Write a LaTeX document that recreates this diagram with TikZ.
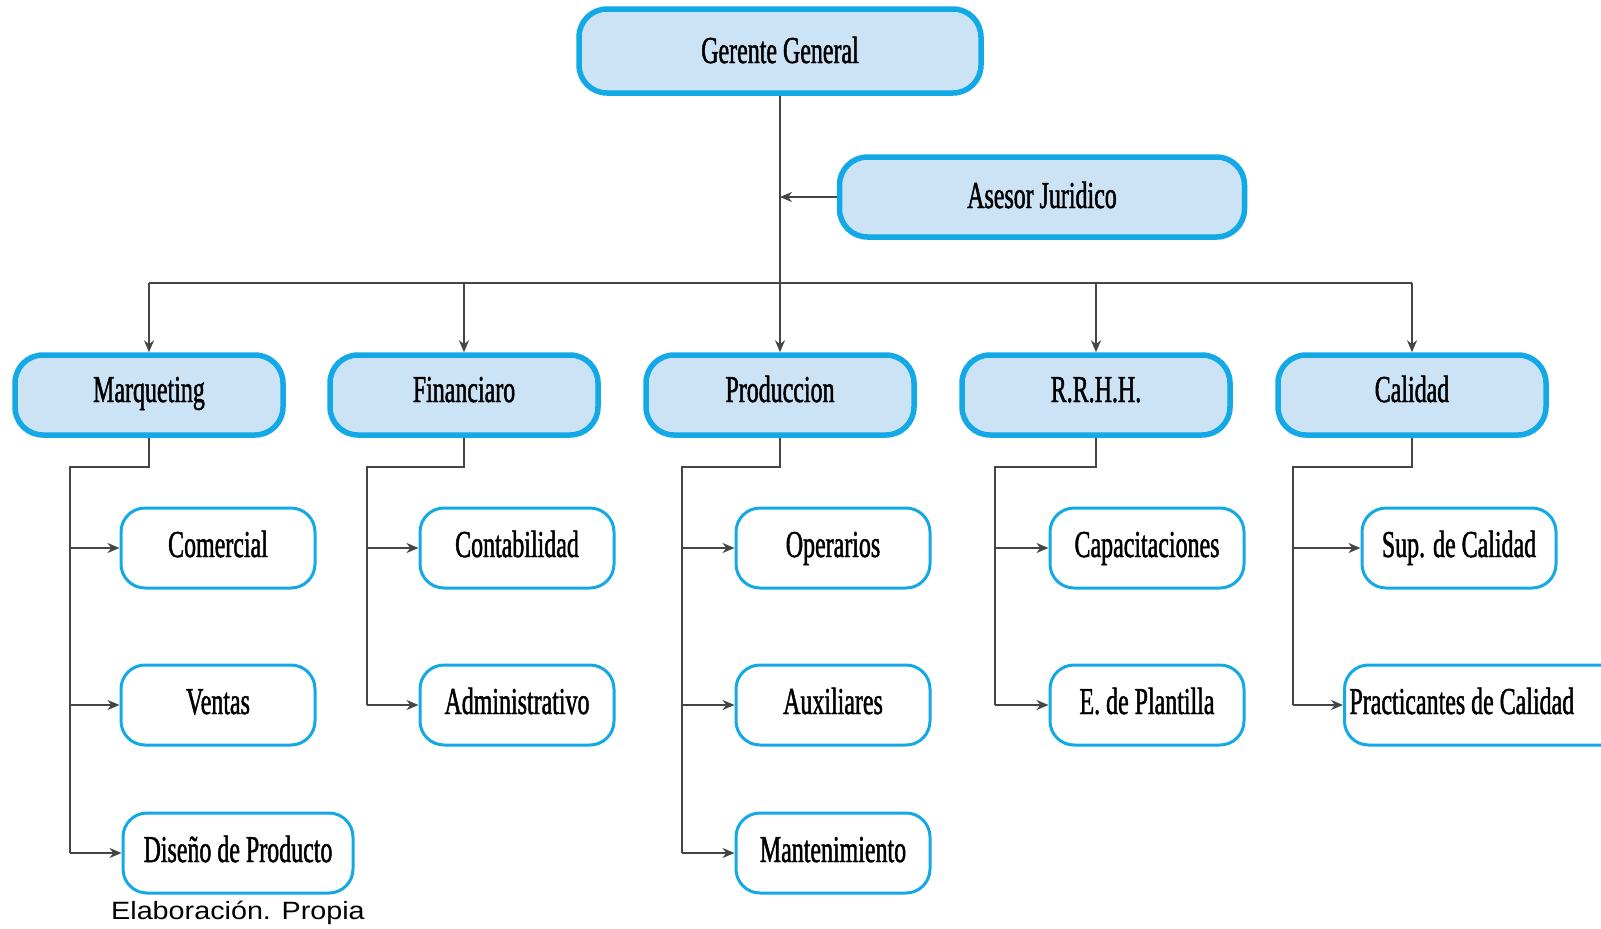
\documentclass[tikz,border=0pt]{standalone}
\usepackage{fontspec}
\setmainfont{Liberation Serif}
\newfontfamily\boxfont[FakeStretch=0.63,FakeBold=1.2]{Liberation Serif}
\newfontfamily\notefont[FakeStretch=1.15]{Liberation Sans}
\usetikzlibrary{arrows.meta}
\definecolor{boxblue}{HTML}{12A9E6}
\definecolor{boxfill}{HTML}{CCE3F6}
\definecolor{linegray}{HTML}{454545}
\tikzset{
  base/.style={font=\boxfont\fontsize{38}{44}\selectfont, text=black, inner sep=0pt,
               text height=26pt},
  head/.style={base, draw=boxblue, line width=5.5pt, fill=boxfill, rounded corners=28pt,
               minimum height=80pt, minimum width=268pt, text depth=12pt},
  sub/.style={base, draw=boxblue, line width=3pt, fill=white, rounded corners=24pt,
              minimum height=80pt, minimum width=194pt, text depth=8pt},
  link/.style={draw=linegray, line width=2pt},
  tip/.style={link, -{Stealth[length=12pt,width=10pt]}}
}
\begin{document}
\begin{tikzpicture}[x=1pt,y=1pt]
\useasboundingbox (0,0) rectangle (1601,-929);

% top level
\node[head, minimum width=402pt, minimum height=84pt, text depth=2pt] (ger) at (780,-51) {Gerente General};
\node[head, minimum width=405pt, text depth=4pt] (ase) at (1042,-197) {Asesor Juridico};

% departments
\node[head] (mar)  at (149,-395)  {Marqueting};
\node[head] (fin)  at (464,-395)  {Financiaro};
\node[head] (pro)  at (780,-395)  {Produccion};
\node[head] (rrhh) at (1096,-395) {R.R.H.H.};
\node[head] (cal)  at (1412,-395) {Calidad};

% units
\node[sub] (com) at (218,-548) {Comercial};
\node[sub] (ven) at (218,-705) {Ventas};
\node[sub, minimum width=230pt] (dis) at (238,-853) {Diseño de Producto};

\node[sub] (con) at (517,-548) {Contabilidad};
\node[sub] (adm) at (517,-705) {Administrativo};

\node[sub] (ope) at (833,-548) {Operarios};
\node[sub] (aux) at (833,-705) {Auxiliares};
\node[sub] (man) at (833,-853) {Mantenimiento};

\node[sub] (cap) at (1147,-548) {Capacitaciones};
\node[sub] (pla) at (1147,-705) {E. de Plantilla};

\node[sub] (sup) at (1459,-548) {Sup. de Calidad};
\node[sub, anchor=west] (pra) at (1343,-705)
  {\hbox to 285pt{\hskip 5pt Practicantes de Calidad\hfil}};

% note
\node[font=\notefont\fontsize{25}{30}\selectfont, anchor=base west, inner sep=0pt]
  (nota) at (111,-919) {Elaboración. Propia};

% main trunk and staff link
\coordinate (bus) at (780,-283);
\draw[tip] (ger.south) -- (pro.north);
\draw[tip] (ase.west) -- (ase.west -| ger.south);
\draw[link] (mar.north |- bus) -- (cal.north |- bus);
\foreach \d in {mar,fin,rrhh,cal}
  \draw[tip] (\d.north |- bus) -- (\d.north);

% branch spines
\coordinate (kmar)  at (70,-467);
\coordinate (kfin)  at (367,-467);
\coordinate (kpro)  at (682,-467);
\coordinate (krrhh) at (995,-467);
\coordinate (kcal)  at (1293,-467);

\draw[link] (mar.south) |- (kmar) -- (kmar |- dis.west);
\foreach \u in {com,ven,dis} \draw[tip] (kmar |- \u.west) -- (\u.west);

\draw[link] (fin.south) |- (kfin) -- (kfin |- adm.west);
\foreach \u in {con,adm} \draw[tip] (kfin |- \u.west) -- (\u.west);

\draw[link] (pro.south) |- (kpro) -- (kpro |- man.west);
\foreach \u in {ope,aux,man} \draw[tip] (kpro |- \u.west) -- (\u.west);

\draw[link] (rrhh.south) |- (krrhh) -- (krrhh |- pla.west);
\foreach \u in {cap,pla} \draw[tip] (krrhh |- \u.west) -- (\u.west);

\draw[link] (cal.south) |- (kcal) -- (kcal |- pra.west);
\foreach \u in {sup,pra} \draw[tip] (kcal |- \u.west) -- (\u.west);
\end{tikzpicture}
\end{document}
